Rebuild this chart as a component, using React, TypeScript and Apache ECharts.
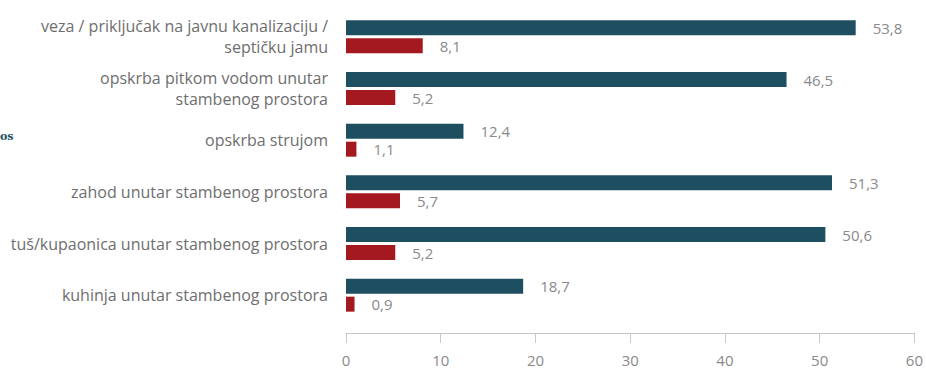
import React, { useEffect, useRef } from "react";
import * as echarts from "echarts";

const categories = [
  "veza / priključak na javnu kanalizaciju /\nseptičku jamu",
  "opskrba pitkom vodom unutar\nstambenog prostora",
  "opskrba strujom",
  "zahod unutar stambenog prostora",
  "tuš/kupaonica unutar stambenog prostora",
  "kuhinja unutar stambenog prostora",
];
const seriesA = [53.8, 46.5, 12.4, 51.3, 50.6, 18.7];
const seriesB = [8.1, 5.2, 1.1, 5.7, 5.2, 0.9];
const xTicks = [0, 10, 20, 30, 40, 50, 60];

const fmt = (v: number) => v.toFixed(1).replace(".", ",");

export default function App() {
  const ref = useRef<HTMLDivElement>(null);
  useEffect(() => {
    document.body.style.margin = "0";
    document.body.style.overflow = "hidden";
    if (!ref.current) return;
    const chart = echarts.init(ref.current, undefined, { renderer: "svg" });
    const labelStyle = {
      show: true,
      position: "right" as const,
      distance: 17,
      color: "#8a8a8a",
      fontSize: 15,
      fontFamily: "Open Sans",
      formatter: (p: any) => fmt(p.value),
    };
    chart.setOption({
      animation: false,
      grid: { left: 346, right: 11, top: 11, bottom: 51 },
      xAxis: {
        type: "value",
        min: xTicks[0],
        max: xTicks[xTicks.length - 1],
        interval: 10,
        offset: 12,
        splitLine: { show: false },
        axisLine: { show: true, lineStyle: { color: "#c8c8c8", width: 1 } },
        axisTick: { show: true, length: 10, lineStyle: { color: "#c8c8c8" } },
        axisLabel: {
          color: "#8a8a8a",
          fontSize: 15,
          fontFamily: "Open Sans",
          margin: 19,
        },
      },
      yAxis: {
        type: "category",
        data: categories,
        inverse: true,
        axisLine: { show: false },
        axisTick: { show: false },
        axisLabel: {
          color: "#6e6e6e",
          fontSize: 16,
          lineHeight: 21,
          fontFamily: "Open Sans",
          margin: 18,
          align: "right",
        },
      },
      series: [
        {
          type: "bar",
          data: seriesA,
          barWidth: 15,
          barGap: "20%",
          itemStyle: { color: "#1d4f60" },
          label: labelStyle,
        },
        {
          type: "bar",
          data: seriesB,
          barWidth: 15,
          itemStyle: { color: "#a3191f" },
          label: labelStyle,
        },
      ],
      graphic: [
        {
          type: "text",
          left: 0,
          top: 131,
          style: {
            text: "os",
            fill: "#1d4f60",
            fontSize: 11,
            fontWeight: "bold",
            fontFamily: "DejaVu Serif",
          },
        },
      ],
    });
    return () => chart.dispose();
  }, []);
  return <div ref={ref} style={{ width: 926, height: 372 }} />;
}
